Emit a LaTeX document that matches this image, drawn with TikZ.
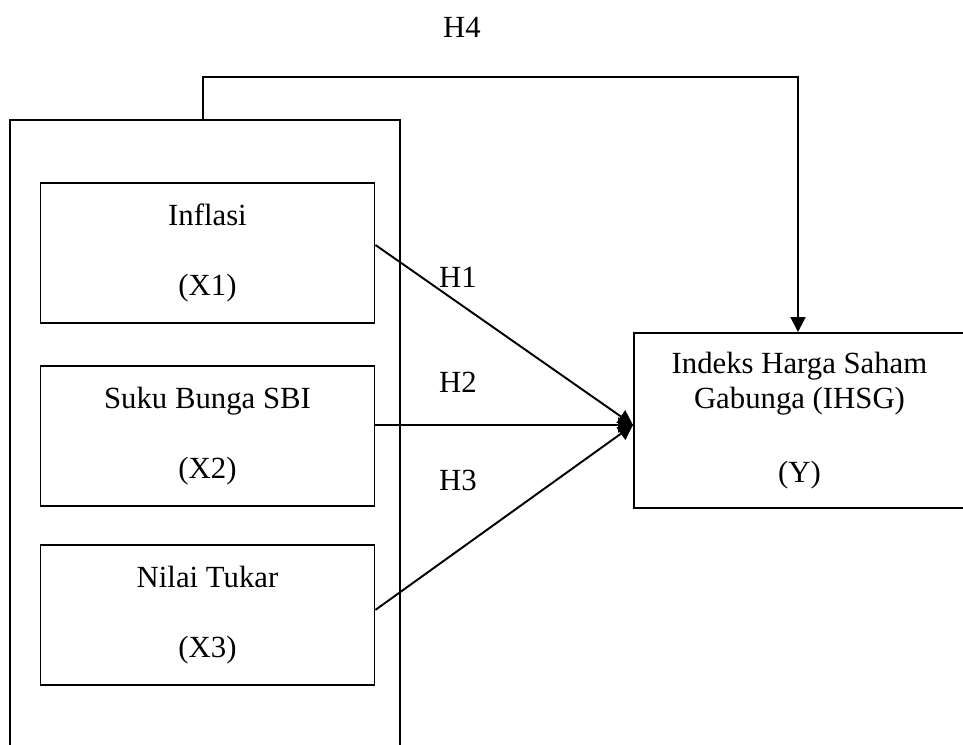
\documentclass[tikz,border=0pt]{standalone}
\usepackage{fontspec}
\setmainfont{Liberation Serif}
\usetikzlibrary{arrows.meta,positioning,calc}

\begin{document}
\begin{tikzpicture}[
    font=\fontsize{17.5}{20}\selectfont,
    varbox/.style={draw, line width=1.1pt, minimum width=6.68cm, minimum height=2.8cm, align=center},
    hyparrow/.style={line width=1.1pt, -{Triangle[length=8.5pt,width=8.5pt]}}
  ]
  % Page frame
  \clip (0,0) rectangle (19.26,14.9);

  % Outer group (open at the bottom)
  \node[draw, line width=1.1pt, minimum width=7.8cm, minimum height=13.6cm] (group) at (4.1,5.7) {};

  % Independent variables
  \node[varbox] (X1) at (4.15,9.84) {Inflasi\\[20pt](X1)};
  \node[varbox, below=0.82cm of X1] (X2) {Suku Bunga SBI\\[20pt](X2)};
  \node[varbox, below=0.74cm of X2] (X3) {Nilai Tukar\\[20pt](X3)};

  % Dependent variable
  \node[draw, line width=1.1pt, minimum width=6.62cm, minimum height=3.5cm, align=center] (Y) at (15.99,6.49)
    {Indeks Harga Saham\\Gabunga (IHSG)\\[22pt](Y)};
  \coordinate (tip) at ([yshift=-0.09cm]Y.west);

  % Partial hypotheses
  \draw[hyparrow] ([yshift=0.16cm]X1.east) -- (tip);
  \draw[hyparrow] (X2.east |- tip) -- (tip);
  \draw[hyparrow] ([yshift=0.1cm]X3.east) -- (tip);
  \node (H1) at (9.16,9.36) {H1};
  \node (H2) at (9.16,7.26) {H2};
  \node (H3) at (9.16,5.30) {H3};

  % Simultaneous hypothesis
  \coordinate (h4start) at ($(group.north west)+(3.88,0)$);
  \draw[hyparrow] (h4start) -- ++(0,0.84) -| ([xshift=-0.03cm]Y.north);
  \node (H4) at (9.24,14.36) {H4};
\end{tikzpicture}
\end{document}
